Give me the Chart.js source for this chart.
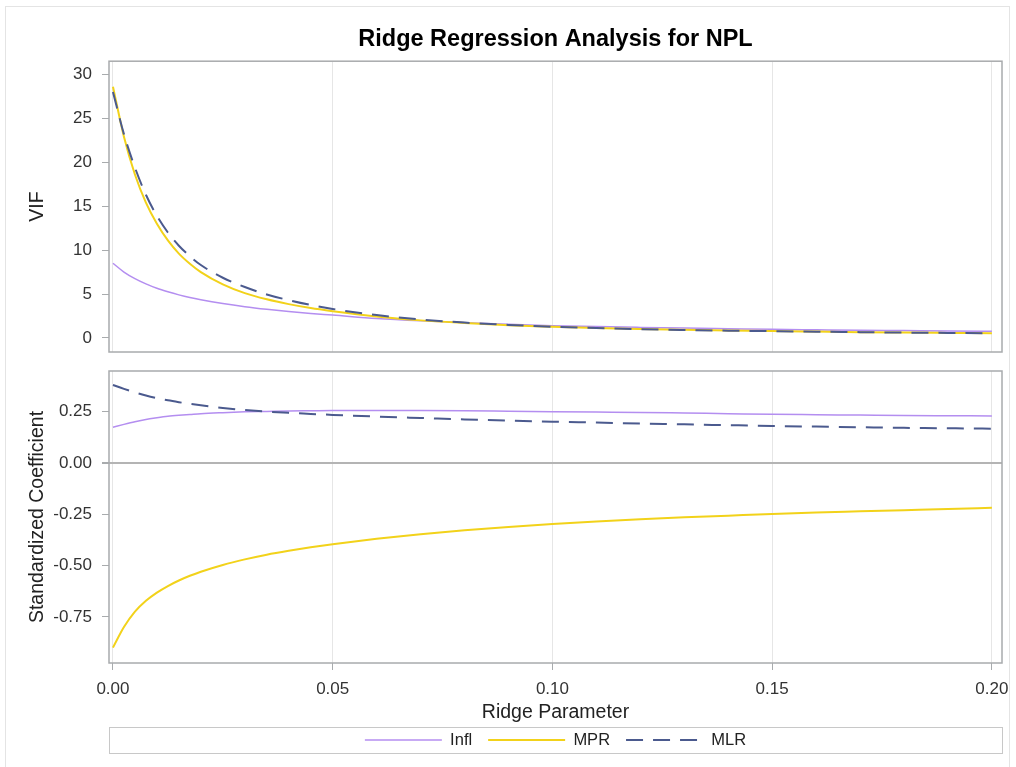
<!DOCTYPE html>
<html>
<head>
<meta charset="utf-8">
<script src="https://cdn.jsdelivr.net/npm/chart.js@4.4.0/dist/chart.umd.min.js"></script>
<style>
  html, body { margin: 0; padding: 0; background: #fff; }
  body { width: 1016px; height: 767px; position: relative; overflow: hidden; }
  #frame { position: absolute; left: 5px; top: 6px; width: 1005px; height: 770px; border: 1px solid #e4e4e4; box-sizing: border-box; }
  #top-wrap { position: absolute; left: 0; top: 0; width: 1016px; height: 360px; }
  #bot-wrap { position: absolute; left: 0; top: 360px; width: 1016px; height: 407px; }
</style>
</head>
<body>
<div id="frame"></div>
<div id="top-wrap"><canvas id="vif-chart"></canvas></div>
<div id="bot-wrap"><canvas id="coef-chart"></canvas></div>
<script>
// ridge parameter grid (x values)
const RIDGE_K = [0, 0.0025, 0.005, 0.0075, 0.01, 0.0125, 0.015, 0.0175, 0.02, 0.025, 0.03, 0.035, 0.04, 0.045, 0.05,
  0.06, 0.07, 0.08, 0.09, 0.1, 0.11, 0.12, 0.13, 0.14, 0.15, 0.16, 0.17, 0.18, 0.19, 0.2];

// VIF panel
const VIF_INFL = [8.5, 7.5, 6.75, 6.15, 5.65, 5.25, 4.9, 4.6, 4.35, 3.92, 3.56, 3.26, 3.0, 2.78, 2.6,
  2.22, 1.95, 1.74, 1.55, 1.4, 1.29, 1.2, 1.12, 1.05, 0.98, 0.93, 0.88, 0.84, 0.8, 0.77];
const VIF_MPR = [28.6, 22.9, 18.6, 15.4, 13.0, 11.1, 9.6, 8.45, 7.5, 6.1, 5.1, 4.4, 3.85, 3.4, 3.05,
  2.45, 2.0, 1.7, 1.45, 1.28, 1.13, 1.02, 0.93, 0.85, 0.78, 0.72, 0.66, 0.61, 0.57, 0.53];
const VIF_MLR = [28.0, 23.2, 19.4, 16.3, 13.9, 12.0, 10.5, 9.3, 8.3, 6.85, 5.8, 4.95, 4.3, 3.75, 3.3,
  2.6, 2.1, 1.75, 1.48, 1.28, 1.12, 1.0, 0.91, 0.83, 0.77, 0.71, 0.66, 0.61, 0.57, 0.53];

// standardized coefficient panel
const COEF_INFL = [0.174, 0.188, 0.201, 0.212, 0.220, 0.227, 0.232, 0.236, 0.240, 0.245, 0.249, 0.251, 0.253, 0.254, 0.255,
  0.255, 0.255, 0.254, 0.252, 0.25, 0.248, 0.246, 0.243, 0.24, 0.237, 0.235, 0.233, 0.231, 0.23, 0.229];
const COEF_MPR = [-0.90, -0.80, -0.725, -0.672, -0.632, -0.600, -0.573, -0.550, -0.530, -0.497, -0.470, -0.447, -0.428, -0.411, -0.396,
  -0.370, -0.348, -0.328, -0.312, -0.298, -0.286, -0.275, -0.265, -0.257, -0.249, -0.242, -0.236, -0.23, -0.224, -0.219];
const COEF_MLR = [0.38, 0.361, 0.344, 0.329, 0.316, 0.305, 0.296, 0.288, 0.281, 0.268, 0.258, 0.250, 0.244, 0.239, 0.234,
  0.226, 0.219, 0.212, 0.206, 0.201, 0.197, 0.192, 0.188, 0.184, 0.180, 0.177, 0.174, 0.171, 0.169, 0.167];

const SERIES_NAMES = ['Infl', 'MPR', 'MLR'];
const X_TICKS = [0, 0.05, 0.1, 0.15, 0.2];
const VIF_TICKS = [0, 5, 10, 15, 20, 25, 30];
const COEF_TICKS = [-0.75, -0.5, -0.25, 0, 0.25];

const FONT = "'Liberation Sans', Arial, sans-serif";
const COLORS = { Infl: '#b48ef0', MPR: '#f2d21a', MLR: '#4b5a8e' };
const FRAME_COLOR = '#a8abad';
const TICK_FONT = { family: FONT, size: 17 };
const LABEL_FONT = { family: FONT, size: 19.5 };

function pts(ys) { return RIDGE_K.map((k, i) => ({ x: k, y: ys[i] })); }

function makeDatasets(infl, mpr, mlr) {
  const ys = [infl, mpr, mlr];
  return SERIES_NAMES.map((name, i) => ({
    label: name,
    data: pts(ys[i]),
    borderColor: COLORS[name],
    backgroundColor: COLORS[name],
    borderWidth: name === 'Infl' ? 1.5 : 2,
    borderDash: name === 'MLR' ? [17, 10] : [],
    pointRadius: 0,
    pointStyle: 'line',
    cubicInterpolationMode: 'monotone',
    order: 3 - i
  }));
}

// draws the grey box round each plot area (and round the legend)
const framePlugin = {
  id: 'frame',
  afterDraw(chart) {
    const a = chart.chartArea, ctx = chart.ctx;
    ctx.save();
    ctx.strokeStyle = FRAME_COLOR;
    ctx.lineWidth = 1.5;
    ctx.strokeRect(a.left, a.top, a.right - a.left, a.bottom - a.top);
    const lg = chart.legend;
    if (lg && lg.options.display && lg.legendHitBoxes && lg.legendHitBoxes.length) {
      const hb = lg.legendHitBoxes[0];
      const cy = hb.top + hb.height / 2;
      ctx.strokeStyle = '#c8c8c8';
      ctx.lineWidth = 1;
      ctx.strokeRect(a.left + 0.5, Math.round(cy - 13) + 0.5, a.right - a.left, 26);
    }
    ctx.restore();
  }
};

const xCommon = {
  type: 'linear',
  min: -0.0009,
  max: 0.2023,
  afterBuildTicks: s => { s.ticks = X_TICKS.map(v => ({ value: v })); },
  border: { display: false },
  grid: { color: '#e6e6e6', lineWidth: 1, tickColor: FRAME_COLOR, tickLength: 7 }
};

function yAxis(min, max, tickVals, title, fmt) {
  return {
    min, max,
    afterBuildTicks: s => { s.ticks = tickVals.map(v => ({ value: v })); },
    afterFit: s => { s.width = 109; s.paddingTop = 0; s.paddingBottom = 0; },
    border: { display: false },
    ticks: { color: '#333', font: TICK_FONT, padding: 10, callback: fmt },
    title: { display: true, text: title, color: '#222', font: LABEL_FONT, padding: { top: 26, bottom: 0 } }
  };
}

// legend items: keep the dataset's line dash / width (point style would drop them)
function lineLegendLabels(chart) {
  const items = Chart.defaults.plugins.legend.labels.generateLabels(chart);
  return items.map(it => {
    const ds = chart.data.datasets[it.datasetIndex];
    return Object.assign(it, {
      lineDash: ds.borderDash, lineWidth: ds.borderWidth,
      strokeStyle: ds.borderColor, fillStyle: ds.borderColor, pointStyle: 'line'
    });
  });
}

new Chart(document.getElementById('vif-chart'), {
  type: 'line',
  data: { datasets: makeDatasets(VIF_INFL, VIF_MPR, VIF_MLR) },
  options: {
    responsive: true, maintainAspectRatio: false, animation: false,
    layout: { padding: { left: 0, right: 14, top: 0, bottom: 8 } },
    plugins: {
      legend: { display: false },
      tooltip: { enabled: false },
      title: {
        display: true, fullSize: false,
        text: 'Ridge Regression Analysis for NPL',
        color: '#000', font: { family: FONT, size: 23.5, weight: 'bold' },
        padding: { top: 25, bottom: 8 }
      }
    },
    scales: {
      x: Object.assign({}, xCommon, {
        ticks: { display: false },
        grid: { color: '#e6e6e6', drawTicks: false },
        afterFit: s => { s.height = 0; s.paddingLeft = 0; s.paddingRight = 0; }
      }),
      y: Object.assign(yAxis(-1.6, 31.5, VIF_TICKS, 'VIF', v => v), {
        grid: { drawOnChartArea: false, tickColor: FRAME_COLOR, tickLength: 7 }
      })
    }
  },
  plugins: [framePlugin]
});

new Chart(document.getElementById('coef-chart'), {
  type: 'line',
  data: { datasets: makeDatasets(COEF_INFL, COEF_MPR, COEF_MLR) },
  options: {
    responsive: true, maintainAspectRatio: false, animation: false,
    layout: { padding: { left: 0, right: 14, top: 11, bottom: 8.75 } },
    plugins: {
      tooltip: { enabled: false },
      legend: {
        display: true, position: 'bottom', fullSize: false,
        labels: {
          usePointStyle: true, pointStyleWidth: 77,
          color: '#222', font: { family: FONT, size: 16.5 }, padding: 16,
          generateLabels: lineLegendLabels,
          sort: (a, b) => a.datasetIndex - b.datasetIndex
        }
      }
    },
    scales: {
      x: Object.assign({}, xCommon, {
        afterFit: s => { s.height = 52.75; s.paddingLeft = 0; s.paddingRight = 0; },
        ticks: { color: '#333', font: TICK_FONT, padding: 9, maxRotation: 0, callback: v => Number(v).toFixed(2) },
        title: { display: true, text: 'Ridge Parameter', color: '#222', font: LABEL_FONT, padding: { top: 0, bottom: -9 } }
      }),
      y: Object.assign(yAxis(-0.975, 0.448, COEF_TICKS, 'Standardized Coefficient', v => Number(v).toFixed(2)), {
        grid: {
          color: c => (c.tick && c.tick.value === 0 ? '#b4b4b4' : 'rgba(0,0,0,0)'),
          lineWidth: c => (c.tick && c.tick.value === 0 ? 2 : 1),
          tickColor: FRAME_COLOR, tickLength: 7
        }
      })
    }
  },
  plugins: [framePlugin]
});
</script>
</body>
</html>
